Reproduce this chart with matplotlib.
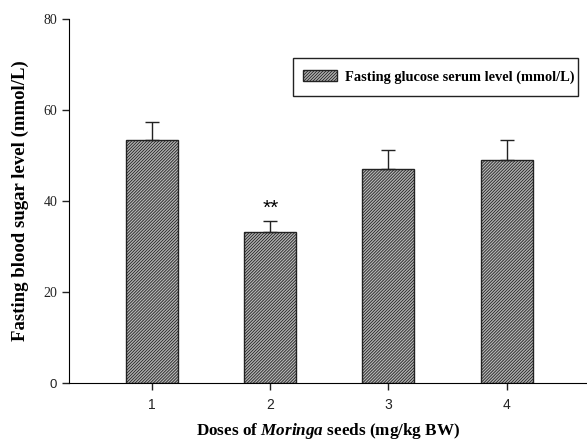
import numpy as np
import matplotlib.pyplot as plt
from matplotlib.patches import Rectangle

plt.rcParams['mathtext.fontset'] = 'custom'
plt.rcParams['mathtext.rm'] = 'Liberation Serif:bold'
plt.rcParams['mathtext.it'] = 'Liberation Serif:italic:bold'
plt.rcParams['hatch.linewidth'] = 0.6

# data
doses = [1, 2, 3, 4]
glucose = [53.3, 33.2, 47.0, 49.0]
glucose_err = [4.0, 2.3, 4.3, 4.5]
signif = ["", "**", "", ""]

fig = plt.figure(figsize=(5.87, 4.43), dpi=100)
ax = fig.add_axes([0.1175, 0.1354, 0.8825, 0.8217])

x = np.array(doses)
ax.bar(x, glucose, width=0.44, color='#b4b4b4', edgecolor='#222222',
       linewidth=1.0, hatch='/' * 11, label='Fasting glucose serum level (mmol/L)')
ax.errorbar(x, glucose, yerr=[np.zeros(len(glucose)), glucose_err], fmt='none',
            ecolor='#222222', elinewidth=1.0, capsize=5, capthick=1.0)

for xi, yi, ei, s in zip(x, glucose, glucose_err, signif):
    if s:
        ax.text(xi, yi + ei + 5.0, s, ha='center', va='top',
                fontsize=15, family='Liberation Sans')

ax.set_xlim(0.297, 4.68)
ax.set_ylim(0, 80)
ax.set_xticks(doses)
ax.set_xticklabels([str(d) for d in doses], family='Liberation Sans', fontsize=10)
ax.set_yticks([0, 20, 40, 60, 80])
ax.set_yticklabels(['0', '20', '40', '60', '80'], fontsize=10)
for i, lab in enumerate(ax.get_yticklabels()):
    lab.set_family('Liberation Sans' if i == 0 else 'Liberation Serif')
    if i == 0:
        lab.set_fontsize(9.5)

ax.spines['top'].set_visible(False)
ax.spines['right'].set_visible(False)
ax.tick_params(direction='out', length=5, width=1, colors='#222222')
ax.tick_params(axis='x', pad=6)

ax.set_ylabel('Fasting blood sugar level (mmol/L)', family='Liberation Serif',
              fontweight='bold', fontsize=13.5, labelpad=10)
ax.set_xlabel(r'Doses of $\mathit{Moringa}$ seeds (mg/kg BW)', family='Liberation Serif',
              fontweight='bold', fontsize=12.3, labelpad=6)

# legend: box drawn separately so the padding matches the original
ax.add_patch(Rectangle((0.432, 0.788), 0.551, 0.105, transform=ax.transAxes,
                       fill=False, edgecolor='#222222', linewidth=1.0, clip_on=False))
ax.legend(loc='center left', bbox_to_anchor=(0.452, 0.841), frameon=False,
          borderpad=0, borderaxespad=0, handlelength=2.36, handleheight=0.83,
          handletextpad=0.55,
          prop={'family': 'Liberation Serif', 'weight': 'bold', 'size': 10.4})

fig.savefig('out.png', dpi=100)
